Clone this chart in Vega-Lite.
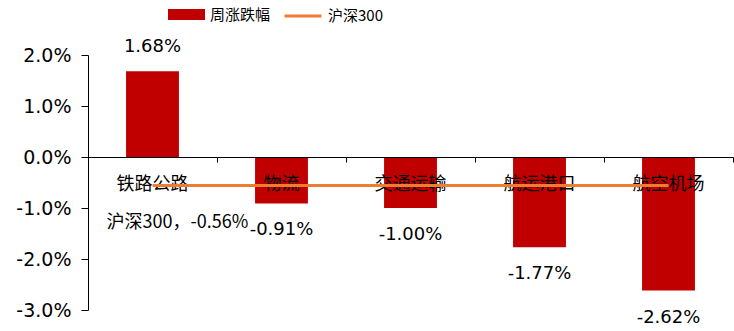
{
  "$schema": "https://vega.github.io/schema/vega-lite/v6.json",
  "autosize": "none",
  "width": 645,
  "height": 255,
  "padding": {"left": 88, "top": 55, "right": 1, "bottom": 21},
  "config": {"view": {"stroke": null}, "font": "Noto Sans CJK SC",
    "locale": {"number": {"decimal": ".", "thousands": ",", "grouping": [3], "currency": ["$", ""], "minus": "-"}}},
  "data": {"values": [
    {"cat": "铁路公路", "chg": 0.0168, "hs": -0.0056},
    {"cat": "物流", "chg": -0.0091, "hs": -0.0056},
    {"cat": "交通运输", "chg": -0.0100, "hs": -0.0056},
    {"cat": "航运港口", "chg": -0.0177, "hs": -0.0056},
    {"cat": "航空机场", "chg": -0.0262, "hs": -0.0056}
  ]},
  "encoding": {
    "x": {"field": "cat", "type": "nominal", "sort": null,
      "scale": {"paddingInner": 0, "paddingOuter": 0},
      "axis": {"title": null, "labels": false, "domainColor": "black", "tickColor": "black", "tickSize": 5, "tickBand": "extent", "offset": -153, "zindex": 1}}
  },
  "layer": [
    {
      "mark": {"type": "bar", "width": {"band": 0.41}},
      "encoding": {
        "y": {"field": "chg", "type": "quantitative",
          "scale": {"domain": [-0.03, 0.02], "nice": false},
          "axis": {"title": null, "values": [-0.03, -0.02, -0.01, 0, 0.01, 0.02], "format": ".1%", "labelFont": "DejaVu Sans", "labelFontSize": 19, "labelColor": "black", "domainColor": "black", "tickColor": "black", "tickSize": 7, "labelPadding": 10, "grid": false}},
        "color": {"datum": "周涨跌幅", "scale": {"domain": ["周涨跌幅"], "range": ["#C00000"]},
          "legend": {"title": null, "orient": "none", "legendX": 80, "legendY": -59, "symbolType": "M-1,-0.3H1V0.3H-1Z", "symbolSize": 1369, "symbolStrokeWidth": 0, "labelFontSize": 15, "labelFont": "Noto Sans CJK SC", "labelColor": "black", "labelOffset": 5}}
      }
    },
    {
      "mark": {"type": "text", "fontSize": 18, "font": "Noto Sans CJK SC", "color": "black", "baseline": "middle"},
      "encoding": {"y": {"datum": -0.0055, "type": "quantitative"}, "text": {"field": "cat"}}
    },
    {
      "transform": [{"filter": "datum.cat === '铁路公路'"}],
      "mark": {"type": "text", "fontSize": 18, "font": "Noto Sans CJK SC", "color": "black", "baseline": "middle", "dx": 25, "dy": 37},
      "encoding": {"y": {"field": "hs", "type": "quantitative"}, "text": {"value": "沪深300，-0.56%"}}
    },
    {
      "transform": [{"filter": "datum.chg >= 0"}],
      "mark": {"type": "text", "fontSize": 18, "font": "DejaVu Sans", "color": "black", "baseline": "middle", "dy": -24},
      "encoding": {"y": {"field": "chg", "type": "quantitative"}, "text": {"field": "chg", "format": ".2%"}}
    },
    {
      "transform": [{"filter": "datum.chg < 0"}],
      "mark": {"type": "text", "fontSize": 18, "font": "DejaVu Sans", "color": "black", "baseline": "middle", "dy": 27},
      "encoding": {"y": {"field": "chg", "type": "quantitative"}, "text": {"field": "chg", "format": ".2%"}}
    },
    {
      "mark": {"type": "line", "strokeWidth": 3},
      "encoding": {
        "y": {"field": "hs", "type": "quantitative"},
        "stroke": {"datum": "沪深300", "scale": {"domain": ["沪深300"], "range": ["#ED7D31"]},
          "legend": {"title": null, "orient": "none", "legendX": 195, "legendY": -59, "symbolType": "stroke", "symbolSize": 1369, "symbolStrokeWidth": 3, "labelFontSize": 15, "labelFont": "Noto Sans CJK SC", "labelColor": "black", "labelOffset": 5}}
      }
    }
  ]
}
